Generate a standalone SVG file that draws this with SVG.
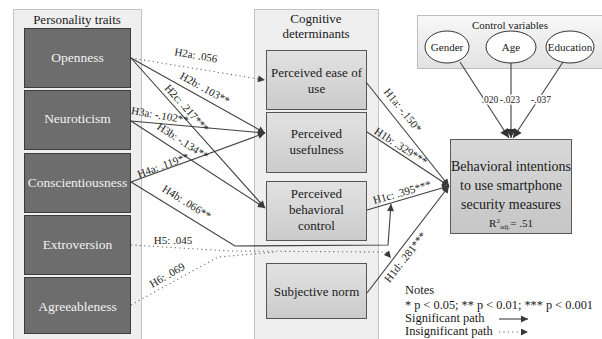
<svg xmlns="http://www.w3.org/2000/svg" width="602" height="339" viewBox="0 0 602 339" font-family="'Liberation Serif', 'Times New Roman', Times, serif">
<defs>
<style>
text{font-family:'Liberation Serif','Times New Roman',Times,serif;fill:#1a1a1a}
.panel{fill:#efefef;stroke:#c4c4c4;stroke-width:1}
.dark{fill:#6d6d6d;stroke:#3c3c3c;stroke-width:1}
.dlab{font-size:13.5px;fill:#f2f2f2;text-anchor:middle}
.cog{fill:url(#gc);stroke:#555;stroke-width:1}
.clab{font-size:13px;text-anchor:middle}
.title{font-size:13px;text-anchor:middle}
.sol{fill:none;stroke:#3f3f3f;stroke-width:1.1;marker-end:url(#arr)}
.dot{fill:none;stroke:#6a6a6a;stroke-width:1.1;stroke-dasharray:1.2 3.2;marker-end:url(#arr)}
.dotn{fill:none;stroke:#6a6a6a;stroke-width:1.1;stroke-dasharray:1.2 3.2}
.ctl{fill:none;stroke:#3f3f3f;stroke-width:1.1;marker-end:url(#arr2)}
.lab{font-size:11px;text-anchor:middle}
.cv{font-size:9.5px;text-anchor:middle;stroke:#fff;stroke-width:3;paint-order:stroke}
.note{font-size:12.5px}
</style>
<linearGradient id="gc" x1="0" y1="0" x2="0" y2="1"><stop offset="0" stop-color="#e2e2e2"/><stop offset="1" stop-color="#cbcbcb"/></linearGradient>
<linearGradient id="gb" x1="0" y1="0" x2="0" y2="1"><stop offset="0" stop-color="#d8d8d8"/><stop offset="1" stop-color="#c6c6c6"/></linearGradient>
<linearGradient id="gv" x1="0" y1="0" x2="0" y2="1"><stop offset="0" stop-color="#f8f8f8"/><stop offset="1" stop-color="#e2e2e2"/></linearGradient>
<marker id="arr" viewBox="0 0 10 10" refX="10" refY="5" markerWidth="9" markerHeight="7" markerUnits="userSpaceOnUse" orient="auto"><path d="M0,0 L10,5 L0,10 z" fill="#3a3a3a"/></marker>
<marker id="arr2" viewBox="0 0 10 10" refX="10" refY="5" markerWidth="10" markerHeight="9" markerUnits="userSpaceOnUse" orient="auto"><path d="M0,0 L10,5 L0,10 z" fill="#333"/></marker>
</defs>
<rect width="602" height="339" fill="#fff"/>

<g id="personality-panel">
<rect class="panel" x="13.5" y="9.5" width="128" height="332"/>
<text class="title" x="77" y="24">Personality traits</text>
</g>
<g id="openness"><rect class="dark" x="24.5" y="28.5" width="106" height="59"/><text class="dlab" x="77.5" y="62">Openness</text></g>
<g id="neuroticism"><rect class="dark" x="24.5" y="90.5" width="106" height="59"/><text class="dlab" x="77.5" y="123">Neuroticism</text></g>
<g id="conscientiousness"><rect class="dark" x="24.5" y="153.5" width="106" height="59"/><text class="dlab" x="77.5" y="187">Conscientiousness</text></g>
<g id="extroversion"><rect class="dark" x="24.5" y="215.5" width="106" height="59"/><text class="dlab" x="77.5" y="249">Extroversion</text></g>
<g id="agreeableness"><rect class="dark" x="24.5" y="277.5" width="106" height="56"/><text class="dlab" x="77.5" y="311">Agreeableness</text></g>

<g id="cognitive-panel">
<rect class="panel" x="254.5" y="9.5" width="124" height="332"/>
<text class="title" x="316" y="23">Cognitive</text>
<text class="title" x="316" y="38">determinants</text>
</g>
<g id="ease-of-use"><rect class="cog" x="266.5" y="50.5" width="100" height="59"/><text class="clab" x="316.5" y="77">Perceived ease of</text><text class="clab" x="316.5" y="93">use</text></g>
<g id="usefulness"><rect class="cog" x="266.5" y="112.5" width="100" height="60"/><text class="clab" x="316.5" y="138">Perceived</text><text class="clab" x="316.5" y="154">usefulness</text></g>
<g id="behavioral-control"><rect class="cog" x="266.5" y="181.5" width="100" height="59"/><text class="clab" x="316.5" y="198">Perceived</text><text class="clab" x="316.5" y="214">behavioral</text><text class="clab" x="316.5" y="230">control</text></g>
<g id="subjective-norm"><rect class="cog" x="266.5" y="263.5" width="100" height="55"/><text class="clab" x="316.5" y="296">Subjective norm</text></g>

<g id="control-variables">
<rect x="417.5" y="15.5" width="190" height="53" fill="url(#gv)" stroke="#bcbcbc"/>
<text x="510" y="29" font-size="11px" text-anchor="middle">Control variables</text>
</g>
<g id="gender"><ellipse cx="447" cy="47" rx="22" ry="16" fill="#fff" stroke="#333"/><text x="447" y="51" font-size="11px" text-anchor="middle">Gender</text></g>
<g id="age"><ellipse cx="511" cy="47" rx="25" ry="16" fill="#fff" stroke="#333"/><text x="511" y="51" font-size="11px" text-anchor="middle">Age</text></g>
<g id="education"><ellipse cx="570" cy="47" rx="24" ry="16" fill="#fff" stroke="#333"/><text x="570" y="51" font-size="11px" text-anchor="middle">Education</text></g>

<g id="behavioral-intentions">
<rect x="450.5" y="139.5" width="121" height="94" fill="url(#gb)" stroke="#5a5a5a"/>
<text x="511" y="171" font-size="14px" text-anchor="middle">Behavioral intentions</text>
<text x="511" y="190" font-size="14px" text-anchor="middle">to use smartphone</text>
<text x="511" y="209" font-size="14px" text-anchor="middle">security measures</text>
<text x="511" y="227" font-size="11px" text-anchor="middle">R<tspan font-size="7px" dy="-4">2</tspan><tspan font-size="7px" dy="6">adj.</tspan><tspan dy="-2">= .51</tspan></text>
</g>

<g id="connectors">
<line class="dot" x1="131" y1="58" x2="265" y2="80"/>
<line class="sol" x1="131" y1="58" x2="265" y2="133"/>
<line class="sol" x1="131" y1="58" x2="265" y2="208"/>
<line class="sol" x1="131" y1="121" x2="265" y2="133"/>
<line class="sol" x1="131" y1="121" x2="265" y2="208"/>
<line class="sol" x1="131" y1="182" x2="265" y2="133"/>
<polyline class="sol" points="131,182 235,246 388,245 391,204"/>
<polyline class="dot" points="131,245 230,251 386,252 391,258"/>
<polyline class="dotn" points="131,305 218,257 275,252"/>
<line class="sol" x1="366" y1="82" x2="449" y2="186"/>
<line class="sol" x1="367" y1="132" x2="449" y2="186"/>
<line class="sol" x1="367" y1="210" x2="449" y2="186"/>
<line class="sol" x1="367" y1="293" x2="449" y2="186"/>
<line class="ctl" x1="460" y1="62" x2="509" y2="138"/>
<line class="ctl" x1="511" y1="63" x2="511" y2="138"/>
<line class="ctl" x1="563" y1="62" x2="513" y2="138"/>
<text class="lab" transform="translate(196,55) rotate(10)" y="4">H2a: .056</text>
<text class="lab" transform="translate(205,88) rotate(29)" y="4">H2b: .103**</text>
<text class="lab" transform="translate(187,108) rotate(48)" y="4">H2c: .217***</text>
<text class="lab" transform="translate(160,115) rotate(10)" y="4">H3a: -.102**</text>
<text class="lab" transform="translate(183,141) rotate(33)" y="4">H3b: -.134**</text>
<text class="lab" transform="translate(163,165) rotate(-20)" y="4">H4a: .119**</text>
<text class="lab" transform="translate(187,202) rotate(32)" y="4">H4b: .066**</text>
<text class="lab" x="173" y="244">H5: .045</text>
<text class="lab" transform="translate(167,275) rotate(-30)" y="4">H6: .069</text>
<text class="lab" transform="translate(403,110) rotate(51)" y="4">H1a: -.150*</text>
<text class="lab" transform="translate(401,146) rotate(33)" y="4">H1b: .329***</text>
<text class="lab" transform="translate(402,192) rotate(-16)" y="4">H1c: .395***</text>
<text class="lab" transform="translate(405,257) rotate(-52)" y="4">H1d: .281***</text>
<text class="cv" x="490" y="103">.020</text>
<text class="cv" x="510" y="103">-.023</text>
<text class="cv" x="541" y="103">-.037</text>
</g>

<g id="notes">
<text class="note" x="405" y="294">Notes</text>
<text class="note" x="405" y="309" textLength="188" lengthAdjust="spacingAndGlyphs">* p &lt; 0.05; ** p &lt; 0.01; *** p &lt; 0.001</text>
<text class="note" x="405" y="322">Significant path</text>
<line class="sol" x1="499" y1="319" x2="528" y2="319"/>
<text class="note" x="405" y="335">Insignificant path</text>
<line class="dot" x1="499" y1="332" x2="528" y2="332"/>
</g>
</svg>
